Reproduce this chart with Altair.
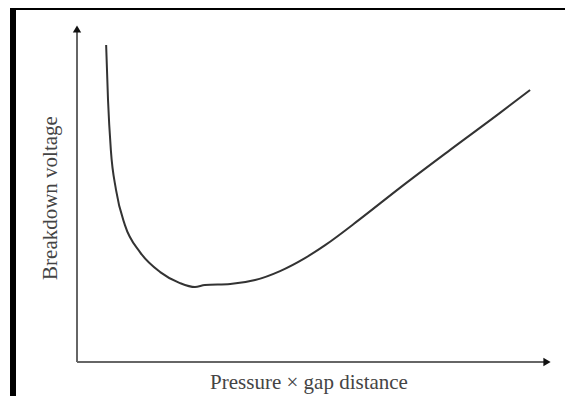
import altair as alt
import pandas as pd

# Paschen-type curve (arbitrary units)
pd_values = [0.62, 0.66, 0.72, 0.83, 1.02, 1.34, 1.77, 2.19, 2.51, 2.72, 3.26, 3.79, 4.32, 4.85, 5.28, 6.02, 6.87, 7.94, 9.0, 9.64]
voltage = [9.52, 7.87, 6.37, 5.17, 4.11, 3.30, 2.70, 2.37, 2.25, 2.31, 2.34, 2.46, 2.73, 3.12, 3.51, 4.29, 5.23, 6.37, 7.48, 8.17]

x_title = "Pressure × gap distance"
y_title = "Breakdown voltage"

W, H = 557, 388
xs = alt.Scale(domain=[0, 10], range=[69, 539])
ys = alt.Scale(domain=[0, 10], range=[354, 21])

curve_df = pd.DataFrame({"x": pd_values, "y": voltage})
axes_df = pd.DataFrame({"x": [0, 0], "y": [0, 0], "x2": [10, 0], "y2": [0, 10]})
arrows_df = pd.DataFrame({"x": [10, 0], "y": [0, 10], "shape": ["triangle-right", "triangle-up"]})

curve = alt.Chart(curve_df).mark_line(
    interpolate="monotone", color="#333333", strokeWidth=2
).encode(
    x=alt.X("x:Q", scale=xs, axis=None),
    y=alt.Y("y:Q", scale=ys, axis=None),
)

axes = alt.Chart(axes_df).mark_rule(color="#666666", strokeWidth=2).encode(
    x=alt.X("x:Q", scale=xs, axis=None),
    y=alt.Y("y:Q", scale=ys, axis=None),
    x2="x2:Q",
    y2="y2:Q",
)

arrows = alt.Chart(arrows_df).mark_point(
    filled=True, color="#111111", size=70, opacity=1
).encode(
    x=alt.X("x:Q", scale=xs, axis=None),
    y=alt.Y("y:Q", scale=ys, axis=None),
    shape=alt.Shape("shape:N", scale=None),
)

xlab = alt.Chart(pd.DataFrame({"t": [x_title]})).mark_text(
    font="Liberation Serif", fontSize=21, color="#444444", baseline="middle", align="center"
).encode(text="t:N", x=alt.value(301), y=alt.value(375))

ylab = alt.Chart(pd.DataFrame({"t": [y_title]})).mark_text(
    font="Liberation Serif", fontSize=21, color="#444444", baseline="middle", align="center", angle=270
).encode(text="t:N", x=alt.value(43), y=alt.value(190))

frame_left = alt.Chart(pd.DataFrame({"a": [0]})).mark_rect(color="black").encode(
    x=alt.value(2), x2=alt.value(8), y=alt.value(0), y2=alt.value(H)
)
frame_top = alt.Chart(pd.DataFrame({"a": [0]})).mark_rect(color="black").encode(
    x=alt.value(2), x2=alt.value(W), y=alt.value(0), y2=alt.value(2)
)

chart = alt.layer(frame_left, frame_top, axes, curve, arrows, xlab, ylab).properties(
    width=W, height=H, autosize="none", padding=0, background="white"
).configure_view(stroke=None)

chart.save("out.html", embed_options={"renderer": "svg", "actions": False})
